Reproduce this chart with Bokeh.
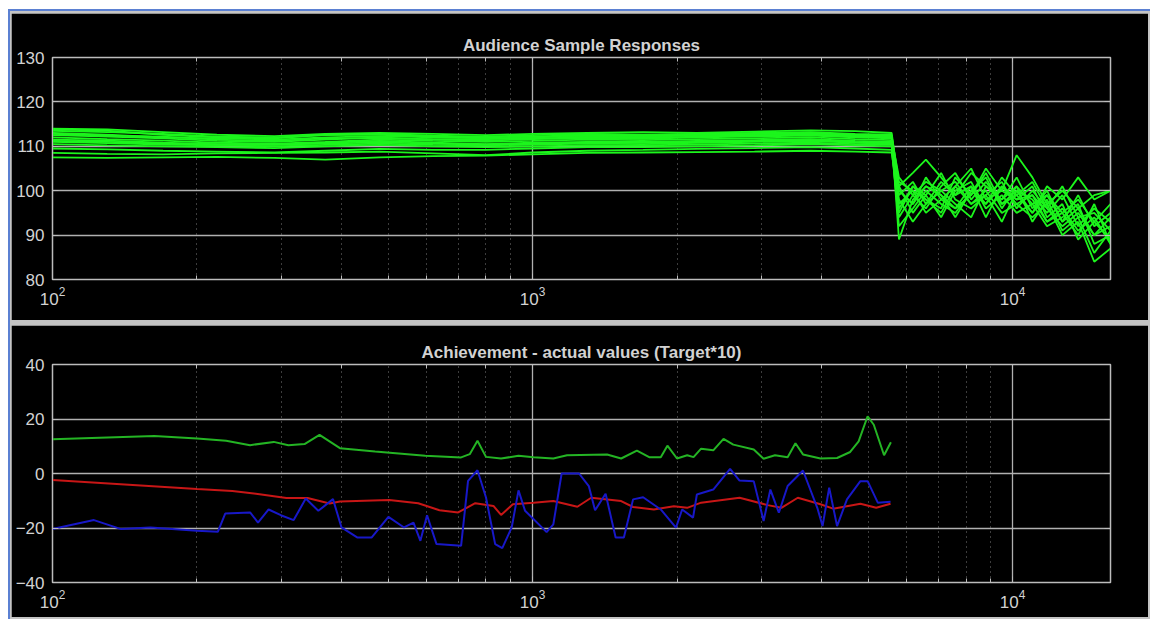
from bokeh.plotting import figure
from bokeh.models import LogAxis, LinearAxis, FixedTicker
from bokeh.layouts import column
from bokeh.embed import file_html
from bokeh.resources import INLINE

# ---------------- data ----------------
title_top = "Audience Sample Responses"
title_bottom = "Achievement - actual values (Target*10)"

resp_freq = [100, 130, 170, 220, 290, 370, 480, 620, 800, 1000, 1300, 1700, 2200, 2900, 3800, 4700, 5600,
             5800, 6200, 6600, 7100, 7600, 8200, 8800, 9500, 10200, 11000, 11800, 12700, 13700, 14800, 16000]

resp_01 = [114.0, 113.8, 113.2, 112.6, 112.3, 112.8, 113.0, 112.8, 112.5, 112.8, 113.0, 113.2, 113.0, 113.3, 113.6, 113.4, 113.0,
           101, 104, 107, 103, 99, 104, 101, 98, 101, 97, 99, 95, 98, 93, 97]
resp_02 = [113.5, 113.2, 112.8, 112.2, 112.0, 112.5, 112.8, 112.4, 112.2, 112.5, 112.8, 112.6, 112.8, 113.0, 113.2, 112.8, 112.6,
           97, 100, 98, 96, 103, 99, 105, 100, 108, 103, 97, 100, 96, 99, 100]
resp_03 = [113.0, 112.6, 112.0, 111.8, 111.5, 112.0, 112.3, 112.0, 111.8, 112.0, 112.3, 112.2, 112.4, 112.6, 112.8, 112.4, 112.2,
           89, 98, 101, 99, 96, 101, 97, 103, 99, 95, 101, 98, 103, 98, 100]
resp_04 = [112.5, 112.2, 111.8, 111.2, 111.0, 111.5, 112.0, 111.5, 111.3, 111.6, 111.8, 111.7, 112.0, 112.2, 112.4, 112.0, 111.8,
           103, 99, 96, 101, 104, 98, 102, 97, 100, 98, 93, 96, 91, 94, 88]
resp_05 = [112.0, 111.6, 111.3, 110.8, 110.6, 111.0, 111.5, 111.2, 111.0, 111.2, 111.5, 111.4, 111.6, 111.8, 112.0, 111.6, 111.4,
           95, 101, 99, 104, 98, 96, 99, 102, 96, 100, 96, 92, 95, 90, 92]
resp_06 = [111.5, 111.3, 110.8, 110.5, 110.3, 110.8, 111.2, 110.8, 110.5, 110.8, 111.0, 111.0, 111.2, 111.4, 111.6, 111.2, 111.0,
           100, 97, 103, 98, 101, 105, 98, 100, 98, 101, 94, 97, 89, 93, 89]
resp_07 = [111.0, 110.7, 110.4, 110.2, 110.0, 110.3, 110.6, 110.3, 110.2, 110.4, 110.6, 110.5, 110.8, 111.0, 111.2, 110.8, 110.6,
           92, 96, 100, 97, 95, 100, 103, 96, 101, 93, 98, 91, 94, 86, 91]
resp_08 = [110.5, 110.2, 110.0, 109.8, 109.6, 110.0, 110.3, 110.0, 109.8, 110.0, 110.2, 110.2, 110.4, 110.6, 110.8, 110.5, 110.3,
           99, 102, 97, 100, 102, 97, 100, 95, 97, 99, 95, 99, 92, 96, 93]
resp_09 = [109.5, 109.3, 109.0, 108.8, 108.6, 109.0, 109.4, 109.2, 109.2, 109.5, 109.8, 109.8, 110.0, 110.2, 110.5, 110.2, 110.0,
           101, 95, 99, 94, 100, 102, 96, 99, 95, 97, 92, 94, 97, 88, 90]
resp_10 = [108.5, 108.3, 108.2, 108.4, 108.5, 108.6, 108.8, 108.4, 108.0, 108.6, 109.0, 109.2, 109.4, 109.6, 109.8, 109.5, 109.2,
           94, 99, 102, 100, 97, 94, 101, 98, 103, 96, 100, 93, 99, 92, 95]
resp_11 = [107.5, 107.4, 107.5, 107.6, 107.4, 107.0, 107.5, 107.8, 107.9, 108.2, 108.5, 108.6, 108.7, 108.8, 109.0, 108.8, 108.6,
           98, 93, 97, 102, 99, 101, 94, 101, 97, 94, 97, 90, 93, 84, 87]
resp_12 = [113.8, 113.5, 112.6, 112.0, 111.8, 112.6, 112.6, 112.2, 112.0, 112.2, 112.6, 112.4, 112.6, 112.8, 113.0, 112.6, 112.4,
           102, 100, 95, 98, 96, 99, 104, 97, 99, 102, 96, 101, 94, 95, 91]
resp_13 = [112.8, 112.4, 112.2, 111.5, 111.2, 111.8, 111.8, 111.6, 111.6, 111.8, 112.0, 111.9, 112.2, 112.4, 112.6, 112.2, 112.0,
           96, 101, 98, 95, 101, 97, 99, 93, 100, 95, 99, 93, 96, 90, 94]
resp_14 = [111.2, 111.0, 110.6, 110.4, 110.4, 110.6, 110.9, 110.6, 110.4, 110.6, 110.8, 110.8, 111.0, 111.2, 111.4, 111.0, 110.8,
           100, 97, 101, 99, 94, 100, 97, 101, 98, 99, 93, 95, 90, 97, 88]

green_freq = [100, 163, 200, 230, 258, 289, 310, 335, 360, 397, 470, 598, 710, 740, 768, 800, 860, 935, 1005, 1105,
              1180, 1430, 1530, 1650, 1750, 1850, 1910, 2000, 2100, 2165, 2245, 2380, 2500, 2620, 2890, 3030, 3200, 3400,
              3530, 3660, 3980, 4310, 4590, 4780, 4990, 5140, 5400, 5580]
green_vals = [12.6, 13.8, 12.8, 12, 10.4, 11.6, 10.4, 10.8, 14.2, 9.3, 8.1, 6.5, 5.9, 7.1, 12, 6.1, 5.5, 6.5, 6, 5.5,
              6.7, 7, 5.5, 8.4, 6, 6, 10.2, 5.5, 6.7, 6, 9.1, 8.5, 12.7, 10.6, 8.8, 5.4, 6.7, 6,
              11.1, 7, 5.5, 5.7, 7.9, 11.8, 21, 17.9, 6.7, 11.5]

red_freq = [100, 200, 237, 270, 307, 340, 378, 397, 503, 578, 640, 700, 760, 829, 860, 910, 1005, 1105, 1240, 1325,
            1530, 1620, 1790, 1970, 2100, 2245, 2700, 3090, 3300, 3570, 3980, 4230, 4820, 5200, 5570]
red_vals = [-2.4, -5.7, -6.4, -7.6, -9, -9, -11, -10.3, -9.7, -10.9, -13.5, -14.3, -10.9, -11.9, -15.2, -11.3, -10.7, -10.1, -12.2, -8.9,
            -10.1, -12.3, -13.2, -12, -12.6, -10.7, -8.9, -11.6, -12.6, -8.9, -11.3, -12.9, -11.1, -12.6, -11.1]

blue_freq = [100, 122, 139, 160, 200, 221, 229, 258, 268, 282, 299, 318, 337, 358, 384, 400, 432, 462, 501, 540,
             565, 584, 603, 631, 710, 734, 768, 800, 836, 865, 905, 935, 965, 1070, 1105, 1150, 1250, 1310, 1350, 1420,
             1490, 1550, 1620, 1700, 1850, 1990, 2050, 2160, 2200, 2380, 2580, 2700, 2890, 3030, 3130, 3260, 3400, 3660,
             3920, 4020, 4150, 4310, 4520, 4820, 4990, 5240, 5570]
blue_vals = [-20.4, -17.1, -20.4, -19.8, -21, -21.4, -14.7, -14.3, -18, -13.2, -15.3, -17.1, -9.2, -13.7, -9.4, -19.8, -23.5, -23.5, -15.9, -19.8,
             -18, -24.7, -15.3, -25.9, -26.5, -2.7, 1.2, -8.8, -25.9, -27.4, -19.8, -6.2, -13.7, -21.5, -18.7, 0, 0, -4.6, -13.5, -7.4,
             -23.5, -23.5, -9.5, -8.7, -13.2, -19.9, -13.2, -16.2, -7.7, -5.9, 1.7, -2.6, -2.8, -17.4, -5.9, -14.4, -4.6, 1.1,
             -12.6, -19.3, -5.2, -19.3, -9.5, -2.8, -2.8, -10.7, -10.4]

x_limits = (100, 16000)
top_yticks = [80, 90, 100, 110, 120, 130]
bottom_yticks = [-40, -20, 0, 20, 40]

responses = [resp_01, resp_02, resp_03, resp_04, resp_05, resp_06, resp_07,
             resp_08, resp_09, resp_10, resp_11, resp_12, resp_13, resp_14]

# ---------------- styling ----------------
FONT = "Liberation Sans"
TXT = "#d2d2d2"
GRID = "#b0b0b0"
FRAME = "#bcbcbc"


def make_fig(title, yticks, height, top_border, bottom_border):
    p = figure(width=1137, height=height, x_axis_type="log",
               x_range=x_limits, y_range=(yticks[0], yticks[-1]),
               output_backend="svg", toolbar_location=None,
               min_border_left=41, min_border_right=38,
               min_border_top=top_border, min_border_bottom=bottom_border)
    p.background_fill_color = "black"
    p.border_fill_color = "black"
    p.outline_line_color = FRAME
    p.outline_line_width = 1.5

    p.title.text = title
    p.title.align = "center"
    p.title.text_color = TXT
    p.title.text_font = FONT
    p.title.text_font_size = "17px"
    p.title.text_font_style = "bold"
    p.title.standoff = 6

    # bottom log axis
    xa = p.xaxis[0]
    xa.axis_line_color = FRAME
    xa.major_tick_in = 6
    xa.major_tick_out = 0
    xa.minor_tick_in = 4
    xa.minor_tick_out = 0
    xa.major_tick_line_color = FRAME
    xa.minor_tick_line_color = FRAME
    xa.major_label_text_color = TXT
    xa.major_label_text_font = FONT
    xa.major_label_text_font_size = "17px"
    xa.major_label_standoff = 7

    # left y axis
    ya = p.yaxis[0]
    ya.ticker = FixedTicker(ticks=yticks)
    ya.axis_line_color = FRAME
    ya.major_tick_in = 6
    ya.major_tick_out = 0
    ya.minor_tick_line_color = None
    ya.major_tick_line_color = FRAME
    ya.major_label_text_color = TXT
    ya.major_label_text_font = FONT
    ya.major_label_text_font_size = "17px"
    ya.major_label_standoff = 8

    # top and right tick-only axes
    ta = LogAxis(major_tick_in=5, major_tick_out=0, minor_tick_in=4, minor_tick_out=0,
                 major_tick_line_color=FRAME, minor_tick_line_color=FRAME,
                 axis_line_color=FRAME, major_label_text_font_size="2px",
                 major_label_text_color=None, major_label_standoff=0)
    p.add_layout(ta, "above")
    ra = LinearAxis(ticker=FixedTicker(ticks=yticks), major_tick_in=6, major_tick_out=0,
                    minor_tick_line_color=None, major_tick_line_color=FRAME,
                    axis_line_color=FRAME, major_label_text_font_size="2px",
                    major_label_text_color=None, major_label_standoff=0)
    p.add_layout(ra, "right")

    p.ygrid.ticker = FixedTicker(ticks=yticks)
    p.ygrid.grid_line_color = GRID
    p.ygrid.grid_line_width = 1.3
    p.xgrid.grid_line_color = GRID
    p.xgrid.grid_line_width = 1.3
    p.xgrid.minor_grid_line_color = "#7a7a7a"
    p.xgrid.minor_grid_line_dash = "1 4"
    p.xgrid.minor_grid_line_width = 1
    return p


p1 = make_fig(title_top, top_yticks, 307, 44, 41)
for r in responses:
    p1.line(resp_freq, r, line_color="#1cf51c", line_width=1.8)

p2 = make_fig(title_bottom, bottom_yticks, 292, 39, 35)
p2.line(green_freq, green_vals, line_color="#24b424", line_width=2)
p2.line(red_freq, red_vals, line_color="#c81616", line_width=2)
p2.line(blue_freq, blue_vals, line_color="#1818c8", line_width=2)

layout = column(p1, p2, spacing=5, margin=(9, 0, 0, 8),
                styles={"border-top": "2px solid #5b80d2",
                        "border-left": "2px solid #5b80d2",
                        "padding": "2px 2px 2px 1px",
                        "background-color": "#c4c4c4"})

open("out.html", "w").write(file_html(layout, INLINE))
